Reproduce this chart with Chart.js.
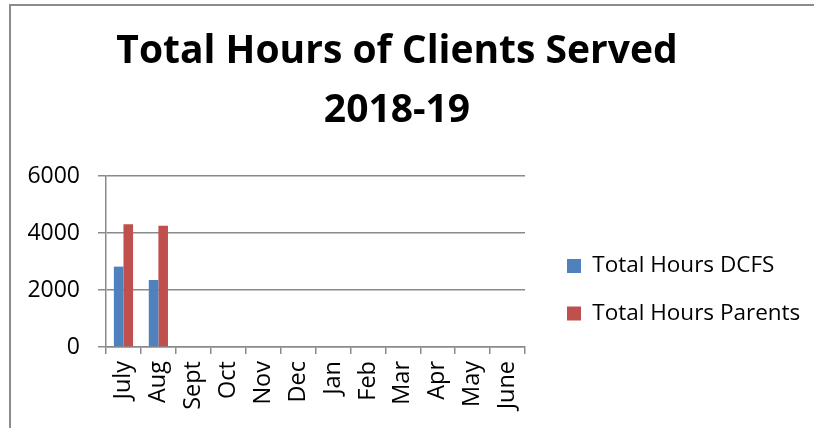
<!DOCTYPE html>
<html>
<head>
<meta charset="utf-8">
<script src="https://cdn.jsdelivr.net/npm/chart.js@4/dist/chart.umd.min.js"></script>
<style>
  html, body { margin: 0; padding: 0; background: #ffffff; }
  #wrap { position: relative; width: 814px; height: 428px; overflow: hidden; }
  #frame { position: absolute; left: 9px; top: 4px; width: 900px; height: 500px;
           border-top: 2px solid #8c8c8c; border-left: 2px solid #8c8c8c; pointer-events: none; }
  canvas { position: absolute; left: 0; top: 0; }
</style>
</head>
<body>
<div id="wrap">
  <canvas id="c" width="814" height="428"></canvas>
  <div id="frame"></div>
</div>
<script>
const chartTitle = ['Total Hours of Clients Served', '2018-19'];
const categories = ['July', 'Aug', 'Sept', 'Oct', 'Nov', 'Dec', 'Jan', 'Feb', 'Mar', 'Apr', 'May', 'June'];
const seriesNames = ['Total Hours DCFS', 'Total Hours Parents'];
const dcfsHours = [2820, 2350, null, null, null, null, null, null, null, null, null, null];
const parentHours = [4305, 4255, null, null, null, null, null, null, null, null, null, null];
const yMin = 0, yMax = 6000, yStep = 2000;

const FONT = '"Open Sans", Lato, sans-serif';
const LEG_FONT = 22.5, LEG_PAD = 25, LEG_WIDTH = 269;

const legendPlacer = {
  id: 'legendPlacer',
  beforeLayout(chart) {
    const lg = chart.legend;
    if (lg && !lg._fixedFit) {
      const orig = lg.fit.bind(lg);
      lg.fit = function () { orig(); this.width = LEG_WIDTH; };
      lg._fixedFit = true;
    }
  },
  afterLayout(chart) {
    const lg = chart.legend;
    if (!lg) return;
    const dx = (567 - LEG_PAD) - lg.left;
    lg.left += dx; lg.right += dx;
    const ih = LEG_FONT, p = LEG_PAD;
    const colH = 2 * (ih + p);
    const y0 = (lg.top + p + lg.bottom - colH) / 2 + ih / 2;
    const dy = 266 - y0;
    lg.top += dy; lg.bottom += dy;
  }
};

new Chart(document.getElementById('c'), {
  type: 'bar',
  data: {
    labels: categories,
    datasets: [
      { label: seriesNames[0], data: dcfsHours, backgroundColor: '#4F81BD', borderWidth: 0 },
      { label: seriesNames[1], data: parentHours, backgroundColor: '#C0504D', borderWidth: 0 }
    ]
  },
  options: {
    responsive: false,
    animation: false,
    devicePixelRatio: 1,
    layout: { padding: { left: 0, right: 20, top: 0, bottom: 0 } },
    datasets: { bar: { categoryPercentage: 0.55, barPercentage: 1.0 } },
    plugins: {
      title: {
        display: true,
        text: chartTitle,
        color: '#000000',
        font: { family: FONT, size: 39, weight: 'bold', lineHeight: 1.5 },
        padding: { top: 23, bottom: 36 }
      },
      legend: {
        display: true,
        position: 'right',
        labels: {
          color: '#000000',
          font: { family: FONT, size: LEG_FONT },
          boxWidth: 14, boxHeight: 14,
          padding: LEG_PAD
        }
      },
      tooltip: { enabled: false }
    },
    scales: {
      x: {
        offset: true,
        grid: { display: true, drawOnChartArea: false, drawTicks: true, tickLength: 7, offset: true,
                color: '#8a8a8a', lineWidth: 1.5 },
        border: { display: true, color: '#8a8a8a', width: 1.5 },
        ticks: { color: '#000000', font: { family: FONT, size: 23.5 }, minRotation: 90, maxRotation: 90,
                 padding: 7, autoSkip: false },
        afterFit(scale) { scale.height = 81; }
      },
      y: {
        min: yMin, max: yMax,
        grid: { color: '#8a8a8a', lineWidth: 1.5, tickLength: 8, drawTicks: true },
        border: { display: true, color: '#8a8a8a', width: 1.5 },
        ticks: { stepSize: yStep, color: '#000000', font: { family: FONT, size: 23 }, padding: 18,
                 callback: (v) => String(v) },
        afterFit(scale) { scale.width = 106; }
      }
    }
  },
  plugins: [legendPlacer]
});
</script>
</body>
</html>
